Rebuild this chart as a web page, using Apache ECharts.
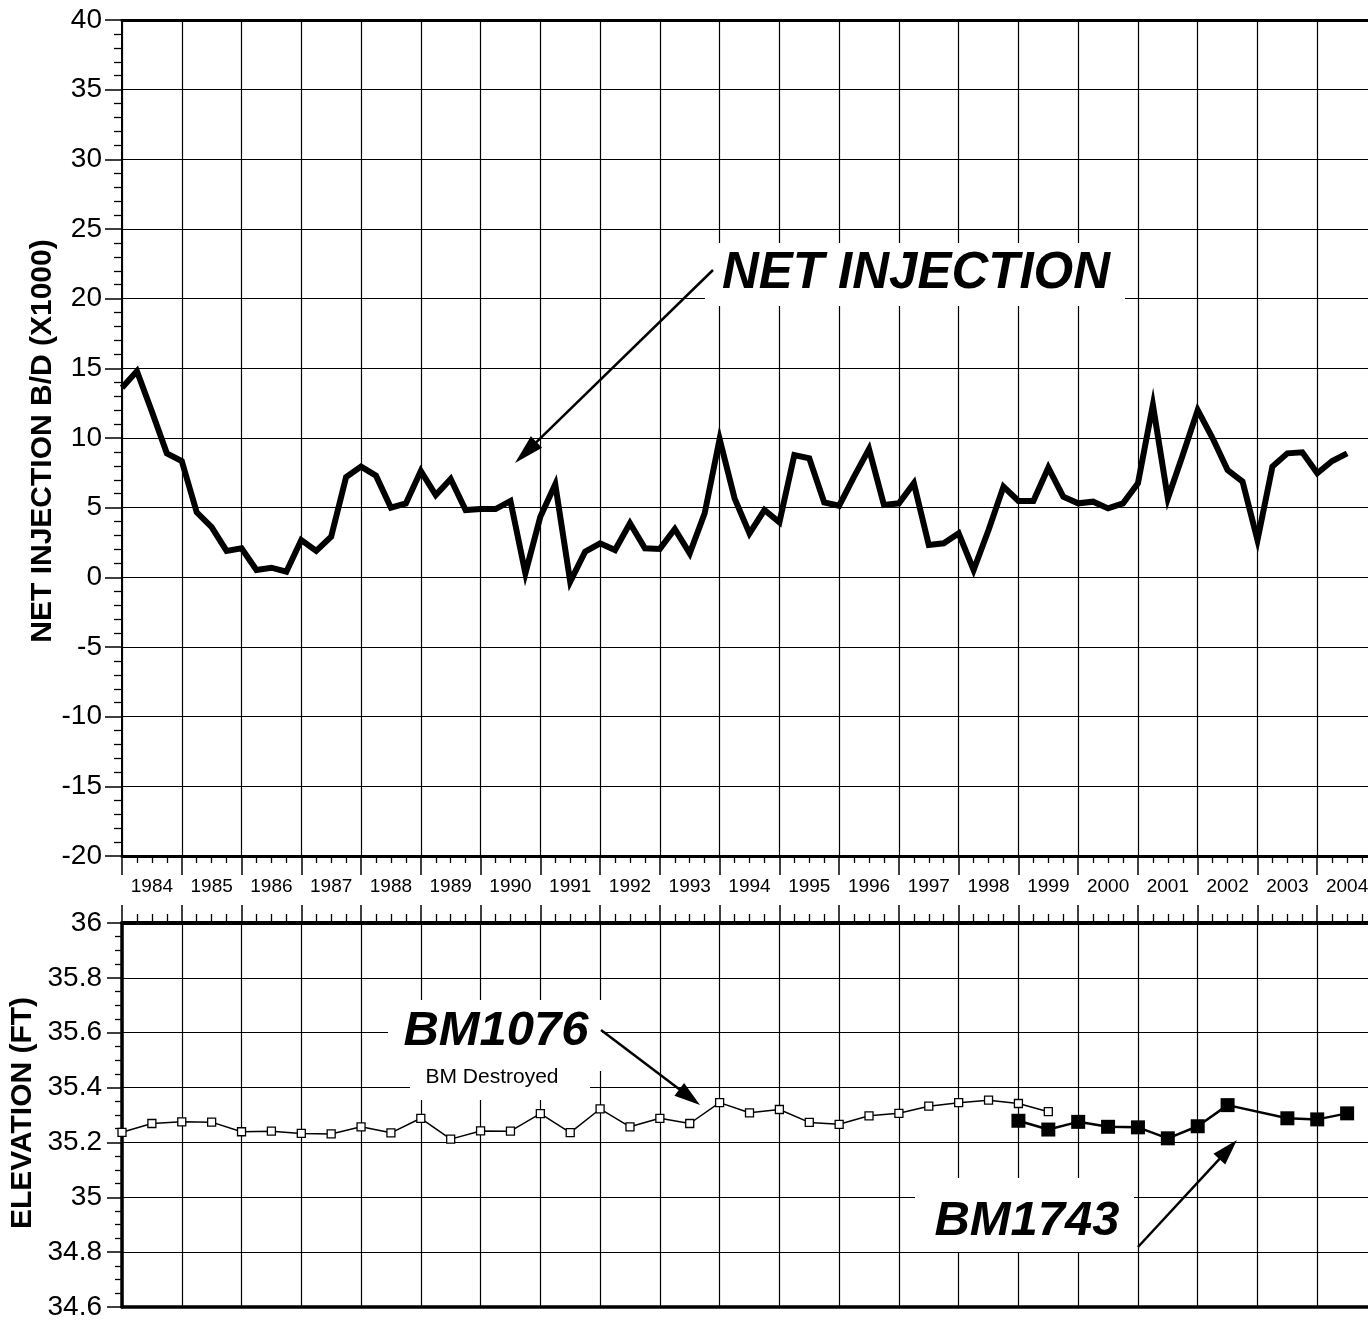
<!DOCTYPE html>
<html><head><meta charset="utf-8">
<script src="https://cdn.jsdelivr.net/npm/echarts@6/dist/echarts.min.js"></script>
<style>html,body{margin:0;padding:0;background:#fff}#c{width:1368px;height:1321px}</style>
</head><body><div id="c"></div>
<script>
// ---- data ----
const startYear = 1984;          // first quarter of the net-injection series
const quarterStep = 0.25;        // quarterly samples
const halfYearStep = 0.5;        // semi-annual survey of BM1076
const yearLabels = ['1984','1985','1986','1987','1988','1989','1990','1991','1992','1993','1994',
  '1995','1996','1997','1998','1999','2000','2001','2002','2003','2004'];
const netInjection = [13.6,14.8,11.9,8.9,8.35,4.67,3.6,1.9,2.08,0.53,0.69,0.4,2.68,1.9,2.92,7.2,
  7.95,7.3,5.0,5.3,7.63,5.9,7.06,4.83,4.9,4.9,5.48,0.29,4.35,6.68,-0.31,1.84,2.44,1.96,3.88,2.08,
  2.04,3.47,1.72,4.6,9.93,5.67,3.16,4.83,3.95,8.78,8.54,5.38,5.14,7.23,9.21,5.19,5.31,6.75,2.32,
  2.44,3.16,0.53,3.4,6.51,5.48,5.48,7.87,5.79,5.31,5.43,4.95,5.31,6.75,12.37,5.67,8.78,12.01,9.98,
  7.7,6.87,2.68,7.95,8.9,8.97,7.47,8.35,8.9];
const bm1076Elev = [35.237,35.269,35.275,35.274,35.239,35.241,35.233,35.231,35.257,35.235,35.288,
  35.212,35.242,35.241,35.305,35.236,35.322,35.257,35.288,35.269,35.345,35.308,35.320,35.273,35.266,
  35.297,35.306,35.332,35.345,35.354,35.342,35.312];
const bm1743Dates = [1999.0,1999.5,2000.0,2000.5,2001.0,2001.5,2002.0,2002.5,2003.5,2004.0,2004.5];
const bm1743Elev = [35.279,35.247,35.275,35.257,35.255,35.215,35.259,35.336,35.288,35.284,35.306];

// ---- build ----
const netSeries = netInjection.map((v, i) => [startYear + i * quarterStep, v]);
const bm1076Series = bm1076Elev.map((v, i) => [startYear + i * halfYearStep, v]);
const bm1743Series = bm1743Elev.map((v, i) => [bm1743Dates[i], v]);

const FONT = '"Liberation Sans", Arial, Helvetica, sans-serif';
const XMIN = 1984, XMAX = 2005;
const G0 = {left: 122, top: 20, width: 1255, height: 836, outerBoundsMode: 'none', containLabel: false};
const G1 = {left: 122, top: 923, width: 1255, height: 384, outerBoundsMode: 'none', containLabel: false};

function arrow(x1, y1, x2, y2, hl, hw, lw) {
  const dx = x2 - x1, dy = y2 - y1, L = Math.hypot(dx, dy), ux = dx / L, uy = dy / L;
  const bx = x2 - ux * hl, by = y2 - uy * hl, px = -uy, py = ux;
  return [
    {type: 'line', z: 100, shape: {x1: x1, y1: y1, x2: bx + ux * 3, y2: by + uy * 3},
     style: {stroke: '#000', lineWidth: lw}},
    {type: 'polygon', z: 100, shape: {points: [[x2, y2], [bx + px * hw, by + py * hw], [bx - px * hw, by - py * hw]]},
     style: {fill: '#000'}}
  ];
}
function txt(x, y, text, font, rot) {
  return {type: 'text', z: 100, x: x, y: y, rotation: rot || 0,
    style: {text: text, font: font, fill: '#000', textAlign: 'center', textVerticalAlign: 'middle',
            align: 'center', verticalAlign: 'middle'}};
}
function box(x, y, w, h) {
  return {type: 'rect', z: 1, shape: {x: x, y: y, width: w, height: h}, style: {fill: '#fff'}};
}

const gridLine = {show: true, lineStyle: {color: '#000', width: 1.2, type: 'solid'}};

const option = {
  animation: false,
  backgroundColor: '#fff',
  grid: [G0, G1],
  xAxis: [
    { // 0: top panel data axis (bottom)
      type: 'value', gridIndex: 0, position: 'bottom', min: XMIN, max: XMAX, interval: 1,
      axisLine: {show: true, onZero: false, lineStyle: {color: '#000', width: 3}},
      axisTick: {show: true, length: 19, lineStyle: {color: '#000', width: 1.5}},
      minorTick: {show: true, splitNumber: 4, length: 7, lineStyle: {color: '#000', width: 1.3}},
      splitLine: gridLine, axisLabel: {show: false}
    },
    { // 1: top panel year labels (centred in each year)
      type: 'value', gridIndex: 0, position: 'bottom', min: XMIN, max: XMAX, interval: 0.5,
      axisLine: {show: false, onZero: false}, axisTick: {show: false}, splitLine: {show: false},
      axisLabel: {show: true, interval: 0, margin: 21, color: '#000', fontSize: 19, fontFamily: FONT,
        formatter: function (v) {
          const r = v - Math.floor(v);
          if (Math.abs(r - 0.5) < 1e-6) { const idx = Math.floor(v) - startYear; return yearLabels[idx] || ''; }
          return '';
        }}
    },
    { // 2: top border of top panel
      type: 'value', gridIndex: 0, position: 'top', min: XMIN, max: XMAX,
      axisLine: {show: true, onZero: false, lineStyle: {color: '#000', width: 3}},
      axisTick: {show: false}, splitLine: {show: false}, axisLabel: {show: false}
    },
    { // 3: bottom panel data axis (top)
      type: 'value', gridIndex: 1, position: 'top', min: XMIN, max: XMAX, interval: 1,
      axisLine: {show: true, onZero: false, lineStyle: {color: '#000', width: 4}},
      axisTick: {show: true, length: 18, lineStyle: {color: '#000', width: 1.5}},
      minorTick: {show: true, splitNumber: 4, length: 9, lineStyle: {color: '#000', width: 1.3}},
      splitLine: gridLine, axisLabel: {show: false}
    },
    { // 4: bottom border of bottom panel
      type: 'value', gridIndex: 1, position: 'bottom', min: XMIN, max: XMAX,
      axisLine: {show: true, onZero: false, lineStyle: {color: '#000', width: 3.5}},
      axisTick: {show: false}, splitLine: {show: false}, axisLabel: {show: false}
    }
  ],
  yAxis: [
    {
      type: 'value', gridIndex: 0, min: -20, max: 40, interval: 5,
      axisLine: {show: true, onZero: false, lineStyle: {color: '#000', width: 2}},
      axisTick: {show: true, length: 17, lineStyle: {color: '#000', width: 1.5}},
      minorTick: {show: true, splitNumber: 5, length: 8, lineStyle: {color: '#000', width: 1.3}},
      splitLine: gridLine,
      axisLabel: {show: true, margin: 20, color: '#000', fontSize: 28, fontFamily: FONT}
    },
    {
      type: 'value', gridIndex: 1, min: 34.6, max: 36, interval: 0.2,
      axisLine: {show: true, onZero: false, lineStyle: {color: '#000', width: 3.5}},
      axisTick: {show: true, length: 15, lineStyle: {color: '#000', width: 1.5}},
      minorTick: {show: true, splitNumber: 4, length: 7, lineStyle: {color: '#000', width: 1.3}},
      splitLine: gridLine,
      axisLabel: {show: true, margin: 20, color: '#000', fontSize: 28, fontFamily: FONT,
        formatter: function (v) { return String(parseFloat(v.toFixed(1))); }}
    }
  ],
  series: [
    {
      name: 'NET INJECTION', type: 'line', xAxisIndex: 0, yAxisIndex: 0, data: netSeries,
      showSymbol: false, symbol: 'none', z: 5,
      lineStyle: {color: '#000', width: 6, join: 'miter'}
    },
    {
      name: 'BM1076', type: 'line', xAxisIndex: 3, yAxisIndex: 1, data: bm1076Series,
      symbol: 'rect', symbolSize: 8, z: 5,
      itemStyle: {color: '#fff', borderColor: '#000', borderWidth: 1.3},
      lineStyle: {color: '#000', width: 1.5}
    },
    {
      name: 'BM1743', type: 'line', xAxisIndex: 3, yAxisIndex: 1, data: bm1743Series,
      symbol: 'rect', symbolSize: 14, z: 6,
      itemStyle: {color: '#000', borderColor: '#000', borderWidth: 0},
      lineStyle: {color: '#000', width: 2.5}
    }
  ],
  graphic: [].concat(
    [box(705, 243, 420, 63), box(388, 1000, 214, 71), box(410, 1071, 180, 29), box(915, 1178, 219, 74)],
    [txt(43, 441, 'NET INJECTION B/D (X1000)', 'bold 30px ' + FONT, Math.PI / 2),
     txt(23, 1113, 'ELEVATION (FT)', 'bold 30px ' + FONT, Math.PI / 2),
     txt(916, 274, 'NET INJECTION', 'italic bold 51px ' + FONT),
     txt(496, 1031, 'BM1076', 'italic bold 49px ' + FONT),
     txt(492, 1077, 'BM Destroyed', '21px ' + FONT),
     txt(1027, 1221, 'BM1743', 'italic bold 49px ' + FONT)],
    arrow(713, 270, 515, 463, 30, 8, 2.5),
    arrow(601, 1030, 700, 1105, 26, 8, 2.5),
    arrow(1138, 1247, 1237, 1140, 26, 8, 2.5)
  )
};

const chart = echarts.init(document.getElementById('c'), null, {renderer: 'canvas', width: 1368, height: 1321});
chart.setOption(option);
</script>
</body></html>
